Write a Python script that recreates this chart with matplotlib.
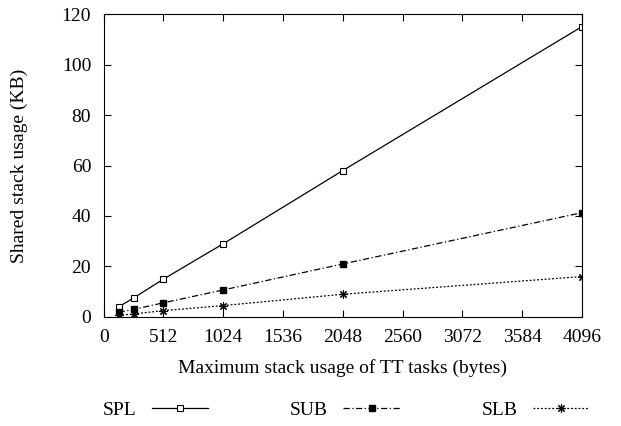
import matplotlib.pyplot as plt

plt.rcParams['font.family'] = ['Liberation Serif', 'DejaVu Serif']

stack_sizes = [128, 256, 512, 1024, 2048, 4096]
spl = [4.0, 7.5, 15.0, 29.0, 58.0, 115.0]
sub = [1.8, 3.0, 5.6, 10.7, 21.0, 41.3]
slb = [0.6, 1.2, 2.5, 4.5, 9.0, 16.0]
xticks = [0, 512, 1024, 1536, 2048, 2560, 3072, 3584, 4096]

fig = plt.figure(figsize=(6.21, 4.26), dpi=100)
ax = fig.add_axes([0.167, 0.256, 0.770, 0.711])

ax.plot(stack_sizes, spl, color='black', lw=0.9, linestyle='-', marker='s',
        markersize=4.5, markerfacecolor='white', markeredgewidth=0.8, label='SPL')
ax.plot(stack_sizes, sub, color='black', lw=0.9, linestyle=(0, (5, 2, 1, 2)), marker='s',
        markersize=4.5, markerfacecolor='black', label='SUB')
ax.plot(stack_sizes, slb, color='black', lw=0.9, linestyle=(0, (1.5, 1.5)), marker=(8, 2, 0),
        markersize=6, markeredgewidth=0.8, label='SLB')

ax.set_xlim(0, 4096)
ax.set_ylim(0, 120)
ax.set_xticks(xticks)
ax.set_yticks(range(0, 121, 20))
ax.tick_params(direction='in', top=True, right=True, labelsize=14, length=5, pad=9)
ax.set_xlabel('Maximum stack usage of TT tasks (bytes)', fontsize=14, labelpad=9)
ax.set_ylabel('Shared stack usage (KB)', fontsize=14, labelpad=24)

fig.legend(loc='center', bbox_to_anchor=(0.557, 0.037), ncol=3, frameon=False,
           markerfirst=False, fontsize=14, handlelength=2.9, handletextpad=0.8,
           columnspacing=4.2)

fig.savefig('out.png', dpi=100)
